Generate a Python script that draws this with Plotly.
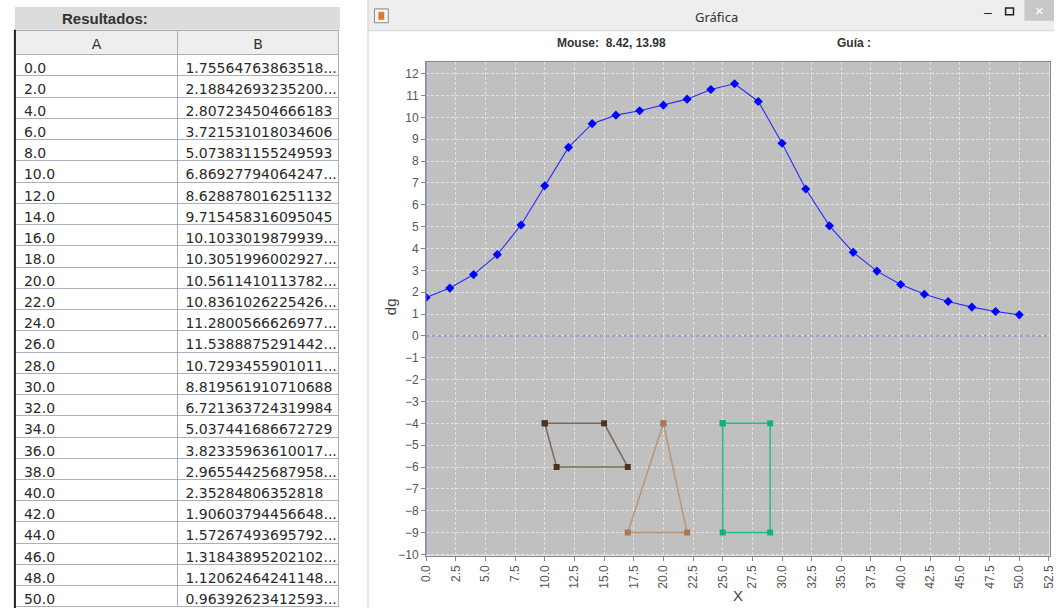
import plotly.graph_objects as go

# ---------------- data ----------------
col_a_labels = ["0.0", "2.0", "4.0", "6.0", "8.0", "10.0", "12.0", "14.0", "16.0",
                "18.0", "20.0", "22.0", "24.0", "26.0", "28.0", "30.0", "32.0",
                "34.0", "36.0", "38.0", "40.0", "42.0", "44.0", "46.0", "48.0", "50.0"]
col_b_labels = ["1.75564763863518...", "2.18842693235200...", "2.807234504666183",
                "3.721531018034606", "5.073831155249593", "6.86927794064247...",
                "8.628878016251132", "9.715458316095045", "10.1033019879939...",
                "10.3051996002927...", "10.5611410113782...", "10.8361026225426...",
                "11.2800566626977...", "11.5388875291442...", "10.7293455901011...",
                "8.819561910710688", "6.721363724319984", "5.037441686672729",
                "3.82335963610017...", "2.96554425687958...", "2.35284806352818",
                "1.90603794456648...", "1.57267493695792...", "1.31843895202102...",
                "1.12062464241148...", "0.96392623412593..."]
series_x = [float(s) for s in col_a_labels]
series_y = [float(s.rstrip(".")) for s in col_b_labels]

quad_x = [10, 15, 17, 11, 10]
quad_y = [-4, -4, -6, -6, -4]
tri_x = [20, 22, 17, 20]
tri_y = [-4, -9, -9, -4]
rect_x = [25, 29, 29, 25, 25]
rect_y = [-4, -4, -9, -9, -4]

table_title = "Resultados:"
header_labels = ["A", "B"]
window_title = "Gráfica"
mouse_text = "Mouse:  8.42, 13.98"
guide_text = "Guía :"
x_title = "X"
y_title = "dg"

# ---------------- geometry helpers ----------------
W, H = 1060, 614
def px(x):
    return x / W
def py(y):
    return 1 - y / H

fig = go.Figure()

# table
fig.add_trace(go.Table(
    domain=dict(x=[px(9), px(337)], y=[0, py(31)]),
    columnwidth=[1, 1],
    header=dict(values=header_labels, height=24, align="center",
                fill_color="#eeeeee", line=dict(color="#a8b0c0", width=1),
                font=dict(family="DejaVu Sans, Liberation Sans", size=14, color="#333333")),
    cells=dict(values=[col_a_labels, col_b_labels], height=21.24, align="left",
               fill_color="white", line=dict(color="#a8b0c0", width=1),
               font=dict(family="DejaVu Sans, Liberation Sans", size=14, color="#2a2a2a")),
))

# main series
fig.add_trace(go.Scatter(
    x=series_x, y=series_y, mode="lines+markers",
    line=dict(color="#2a2aff", width=1.1),
    marker=dict(symbol="diamond", size=7, color="#0000ff"),
    showlegend=False, hoverinfo="skip"))

fig.add_trace(go.Scatter(
    x=quad_x, y=quad_y, mode="lines+markers",
    line=dict(color="#7d6a5a", width=1.5),
    marker=dict(symbol="square", size=6, color="#4a3425"),
    showlegend=False, hoverinfo="skip"))

fig.add_trace(go.Scatter(
    x=tri_x, y=tri_y, mode="lines+markers",
    line=dict(color="#b89478", width=1.5),
    marker=dict(symbol="square", size=6, color="#a67a58"),
    showlegend=False, hoverinfo="skip"))

fig.add_trace(go.Scatter(
    x=rect_x, y=rect_y, mode="lines+markers",
    line=dict(color="#1fbf8f", width=1.5),
    marker=dict(symbol="square", size=6, color="#10b07f"),
    showlegend=False, hoverinfo="skip"))

tick_font = dict(family="Liberation Sans, Arial", size=12, color="#555555")

fig.update_layout(
    width=W, height=H,
    margin=dict(l=0, r=0, t=0, b=0),
    paper_bgcolor="white",
    plot_bgcolor="#c0c0c0",
    showlegend=False,
    xaxis=dict(domain=[px(424.3), px(1055.5)], range=[0, 52.55],
               tick0=0, dtick=2.5, tickformat=".1f", tickangle=-90,
               ticks="outside", ticklen=4, tickcolor="#888888",
               ticklabeloverflow="allow",
               showgrid=True, gridcolor="#e2e2e2", griddash="3px,2px", gridwidth=1,
               zeroline=False, showline=True, linecolor="#8a8a8a", mirror=True,
               tickfont=tick_font),
    yaxis=dict(domain=[py(561), py(62.3)], range=[-10.05, 12.55],
               tick0=0, dtick=1, ticks="outside", ticklen=4, tickcolor="#888888",
               ticklabeloverflow="allow",
               showgrid=True, gridcolor="#e2e2e2", griddash="3px,2px", gridwidth=1,
               zeroline=False, showline=True, linecolor="#8a8a8a", mirror=True,
               tickfont=tick_font),
)

shapes = []
# Resultados bar
shapes.append(dict(type="rect", xref="paper", yref="paper",
                   x0=px(8), x1=px(337), y0=py(30), y1=py(7),
                   fillcolor="#dcdcdc", line=dict(width=0), layer="below"))
# table left dark border
shapes.append(dict(type="line", xref="paper", yref="paper",
                   x0=px(8), x1=px(8), y0=0, y1=py(30),
                   line=dict(color="#222222", width=2)))
# window title bar
shapes.append(dict(type="rect", xref="paper", yref="paper",
                   x0=px(365), x1=1, y0=py(31), y1=1,
                   fillcolor="#eeeeee", line=dict(width=0), layer="below"))
shapes.append(dict(type="line", xref="paper", yref="paper",
                   x0=px(365), x1=1, y0=py(31), y1=py(31),
                   line=dict(color="#d6d6d6", width=1)))
shapes.append(dict(type="line", xref="paper", yref="paper",
                   x0=px(365.5), x1=px(365.5), y0=0, y1=1,
                   line=dict(color="#d0d0d0", width=1)))
# close button
shapes.append(dict(type="rect", xref="paper", yref="paper",
                   x0=px(1030), x1=1, y0=py(21), y1=1,
                   fillcolor="#c8c8c8", line=dict(width=0)))
# java icon
shapes.append(dict(type="rect", xref="paper", yref="paper",
                   x0=px(372), x1=px(386), y0=py(23), y1=py(9),
                   fillcolor="#f4f4f4", line=dict(color="#8a8a8a", width=1)))
shapes.append(dict(type="rect", xref="paper", yref="paper",
                   x0=px(376), x1=px(382), y0=py(20), y1=py(12),
                   fillcolor="#e07a2a", line=dict(width=0)))
# maximize box
shapes.append(dict(type="rect", xref="paper", yref="paper",
                   x0=px(1011), x1=px(1019), y0=py(15), y1=py(8),
                   line=dict(color="#222222", width=1.5)))
# blue reference lines at zero
shapes.append(dict(type="line", xref="paper", yref="y",
                   x0=px(424.3), x1=px(1055.5), y0=0, y1=0,
                   line=dict(color="#6a6aff", width=1, dash="dot")))
shapes.append(dict(type="line", xref="x", yref="paper",
                   x0=0, x1=0, y0=py(561), y1=py(62.3),
                   line=dict(color="#7070ff", width=1)))
fig.update_layout(shapes=shapes)

def note(text, x, y, size, family="Liberation Sans, Arial", color="#333333", angle=0):
    return dict(text=text, x=px(x), y=py(y), xref="paper", yref="paper",
                xanchor="center", yanchor="middle", showarrow=False, textangle=angle,
                font=dict(family=family, size=size, color=color))

ann = [
    note("<b>" + table_title + "</b>", 99, 18.5, 15),
    note(window_title, 718, 17, 13, family="Noto Sans, Liberation Sans"),
    note("–", 993, 12, 14, color="#222222"),
    note("×", 1045, 11, 15, color="white"),
    note("<b>" + mouse_text + "</b>", 612, 43, 12,
         family="Liberation Sans Narrow, Liberation Sans"),
    note("<b>" + guide_text + "</b>", 858, 43, 12,
         family="Liberation Sans Narrow, Liberation Sans"),
    note(x_title, 740, 601, 15, color="#444444"),
    note(y_title, 389, 310, 15, color="#444444", angle=-90),
]
fig.update_layout(annotations=ann)

fig.write_html("out.html",
               config={"displayModeBar": False},
               post_script="document.body.style.margin='0px';"
                           "document.body.style.overflow='hidden';")
